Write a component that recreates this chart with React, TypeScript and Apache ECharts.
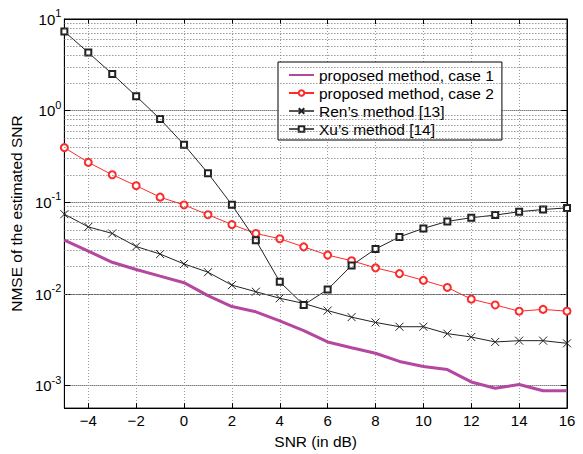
import React, { useEffect, useRef } from "react";
import * as echarts from "echarts";

const snrDb = [-5, -4, -3, -2, -1, 0, 1, 2, 3, 4, 5, 6, 7, 8, 9, 10, 11, 12, 13, 14, 15, 16];
const case1 = [0.0388, 0.0294, 0.0222, 0.0185, 0.0157, 0.0133, 0.0096, 0.0073, 0.0064, 0.0051, 0.004, 0.003, 0.0026, 0.00226, 0.00184, 0.00162, 0.0015, 0.0011, 0.00094, 0.00103, 0.00088, 0.00088];
const case2 = [0.395, 0.273, 0.2, 0.152, 0.114, 0.0937, 0.0733, 0.0573, 0.0458, 0.0401, 0.0327, 0.0266, 0.0231, 0.0193, 0.0167, 0.0141, 0.0118, 0.0088, 0.0076, 0.0065, 0.0068, 0.0065];
const ren = [0.0743, 0.054, 0.0458, 0.033, 0.0273, 0.0213, 0.0173, 0.0125, 0.0106, 0.009, 0.0079, 0.0066, 0.0056, 0.0049, 0.0044, 0.0044, 0.0037, 0.0034, 0.003, 0.0031, 0.0031, 0.0029];
const xu = [7.3, 4.3, 2.52, 1.44, 0.81, 0.425, 0.208, 0.094, 0.0386, 0.0136, 0.0076, 0.0112, 0.0205, 0.031, 0.042, 0.052, 0.062, 0.068, 0.0726, 0.079, 0.0836, 0.087];
const seriesNames = ["proposed method, case 1", "proposed method, case 2", "Ren\u2019s method [13]", "Xu\u2019s method [14]"];

const xMin = -5;
const xMax = 16;
const yMin = 0.00057;
const yMax = 10;

const FONT = "Liberation Sans, Arial, Helvetica, sans-serif";

export default function App() {
  const ref = useRef<HTMLDivElement>(null);
  useEffect(() => {
    const chart = echarts.init(ref.current!, null, { renderer: "svg" });
    const pairs = (arr: number[]) => arr.map((v, i) => [snrDb[i], v]);

    const minorGrid: number[] = [];
    for (let e = -4; e <= 0; e++) {
      for (let m = 2; m <= 9; m++) {
        const v = m * Math.pow(10, e);
        if (v > yMin && v < yMax) minorGrid.push(v);
      }
    }

    const yLabel = (v: number) => {
      const l = Math.log10(v);
      const e = Math.round(l);
      if (Math.abs(l - e) > 0.01) return "";
      return `{b|10}{s|${e < 0 ? "-" : ""}${Math.abs(e)}}`;
    };

    const gridMajorH = { color: "#333", type: [1, 1], width: 1 };
    const gridMinorH = { color: "#666", type: [1, 2], width: 1 };
    const gridLineV = { color: "#999", type: [1, 2], width: 1 };

    const option: any = {
      animation: false,
      backgroundColor: "#fff",
      textStyle: { fontFamily: FONT },
      grid: { left: 63, right: 16, top: 19, bottom: 39, show: true, borderColor: "#000", borderWidth: 1, backgroundColor: "transparent" },
      legend: {
        orient: "vertical",
        left: 278,
        top: 62,
        data: [
          { name: seriesNames[0], itemStyle: { opacity: 0 } },
          { name: seriesNames[1] },
          { name: seriesNames[2], lineStyle: { color: "#555" } },
          { name: seriesNames[3], lineStyle: { color: "#555" } },
        ],
        backgroundColor: "#fff",
        borderColor: "#000",
        borderWidth: 1,
        padding: [5, 8, 3, 10],
        itemWidth: 25,
        itemHeight: 7,
        itemGap: 2,
        textStyle: { fontSize: 15.5, color: "#000", fontFamily: FONT },
      },
      xAxis: [
        {
          type: "value",
          min: xMin,
          max: xMax,
          splitNumber: 10,
          name: "SNR (in dB)",
          nameLocation: "middle",
          nameGap: 21,
          nameTextStyle: { fontSize: 15.5, color: "#000", fontFamily: FONT },
          axisLine: { show: true, onZero: false, lineStyle: { color: "#000", width: 1 } },
          axisTick: { show: true, inside: true, length: 5, lineStyle: { color: "#000" } },
          axisLabel: {
            fontSize: 15,
            color: "#000",
            margin: 5,
            showMinLabel: false,
            fontFamily: FONT,
            formatter: (v: number) => (v < 0 ? "\u2212" + Math.abs(v) : String(v)),
          },
          splitLine: { show: true, lineStyle: gridLineV },
        },
        {
          type: "value",
          position: "top",
          min: xMin,
          max: xMax,
          splitNumber: 10,
          axisLine: { show: true, onZero: false, lineStyle: { color: "#000", width: 1 } },
          axisTick: { show: true, inside: true, length: 5, lineStyle: { color: "#000" } },
          axisLabel: { show: false },
          splitLine: { show: false },
        },
      ],
      yAxis: [
        {
          type: "log",
          logBase: 10,
          min: yMin,
          max: yMax,
          name: "NMSE of the estimated SNR",
          nameLocation: "middle",
          nameRotate: 90,
          nameGap: 31,
          nameTextStyle: { fontSize: 15.5, color: "#000", fontFamily: FONT },
          axisLine: { show: true, onZero: false, lineStyle: { color: "#000", width: 1 } },
          axisTick: { show: true, inside: true, length: 6, lineStyle: { color: "#000" } },
          axisLabel: {
            margin: 3,
            fontSize: 15,
            color: "#000",
            fontFamily: FONT,
            showMinLabel: false,
            formatter: yLabel,
            rich: {
              b: { fontSize: 15, lineHeight: 15, color: "#000", fontFamily: FONT, verticalAlign: "bottom" },
              s: { fontSize: 11, lineHeight: 11, color: "#000", fontFamily: FONT, verticalAlign: "bottom", padding: [0, 0, 8, 0] },
            },
          },
          splitLine: { show: true, lineStyle: gridMajorH },
        },
        {
          type: "log",
          logBase: 10,
          position: "right",
          min: yMin,
          max: yMax,
          axisLine: { show: true, onZero: false, lineStyle: { color: "#000", width: 1 } },
          axisTick: { show: true, inside: true, length: 6, lineStyle: { color: "#000" } },
          axisLabel: { show: false },
          splitLine: { show: false },
        },
      ],
      series: [
        {
          type: "line",
          data: [],
          silent: true,
          z: 1,
          markLine: {
            silent: true,
            symbol: ["none", "none"],
            label: { show: false },
            lineStyle: gridMinorH,
            data: minorGrid.map((v) => ({ yAxis: v })),
          },
        },
        {
          name: seriesNames[0],
          type: "line",
          data: pairs(case1),
          symbol: "none",
          z: 3,
          itemStyle: { color: "#b4479f" },
          lineStyle: { color: "#b4479f", width: 3 },
        },
        {
          name: seriesNames[1],
          type: "line",
          data: pairs(case2),
          symbol: "emptyCircle",
          symbolSize: 7,
          z: 4,
          itemStyle: { color: "#ff2a2a", borderColor: "#ff2a2a", borderWidth: 1 },
          lineStyle: { color: "#ff2a2a", width: 1 },
        },
        {
          name: seriesNames[2],
          type: "line",
          data: pairs(ren),
          symbol: "path://M0,0L10,10M10,0L0,10",
          symbolSize: 8,
          z: 4,
          itemStyle: { color: "#222", borderColor: "#222", borderWidth: 1 },
          lineStyle: { color: "#222", width: 1 },
        },
        {
          name: seriesNames[3],
          type: "line",
          data: pairs(xu),
          symbol: "emptyRect",
          symbolSize: 6,
          z: 4,
          itemStyle: { color: "#222", borderColor: "#222", borderWidth: 1 },
          lineStyle: { color: "#222", width: 1 },
        },
      ],
    };
    chart.setOption(option);
    return () => chart.dispose();
  }, []);
  return (
    <div
      ref={ref}
      style={{ position: "fixed", left: 0, top: 0, width: 583, height: 454, background: "#fff" }}
    />
  );
}
